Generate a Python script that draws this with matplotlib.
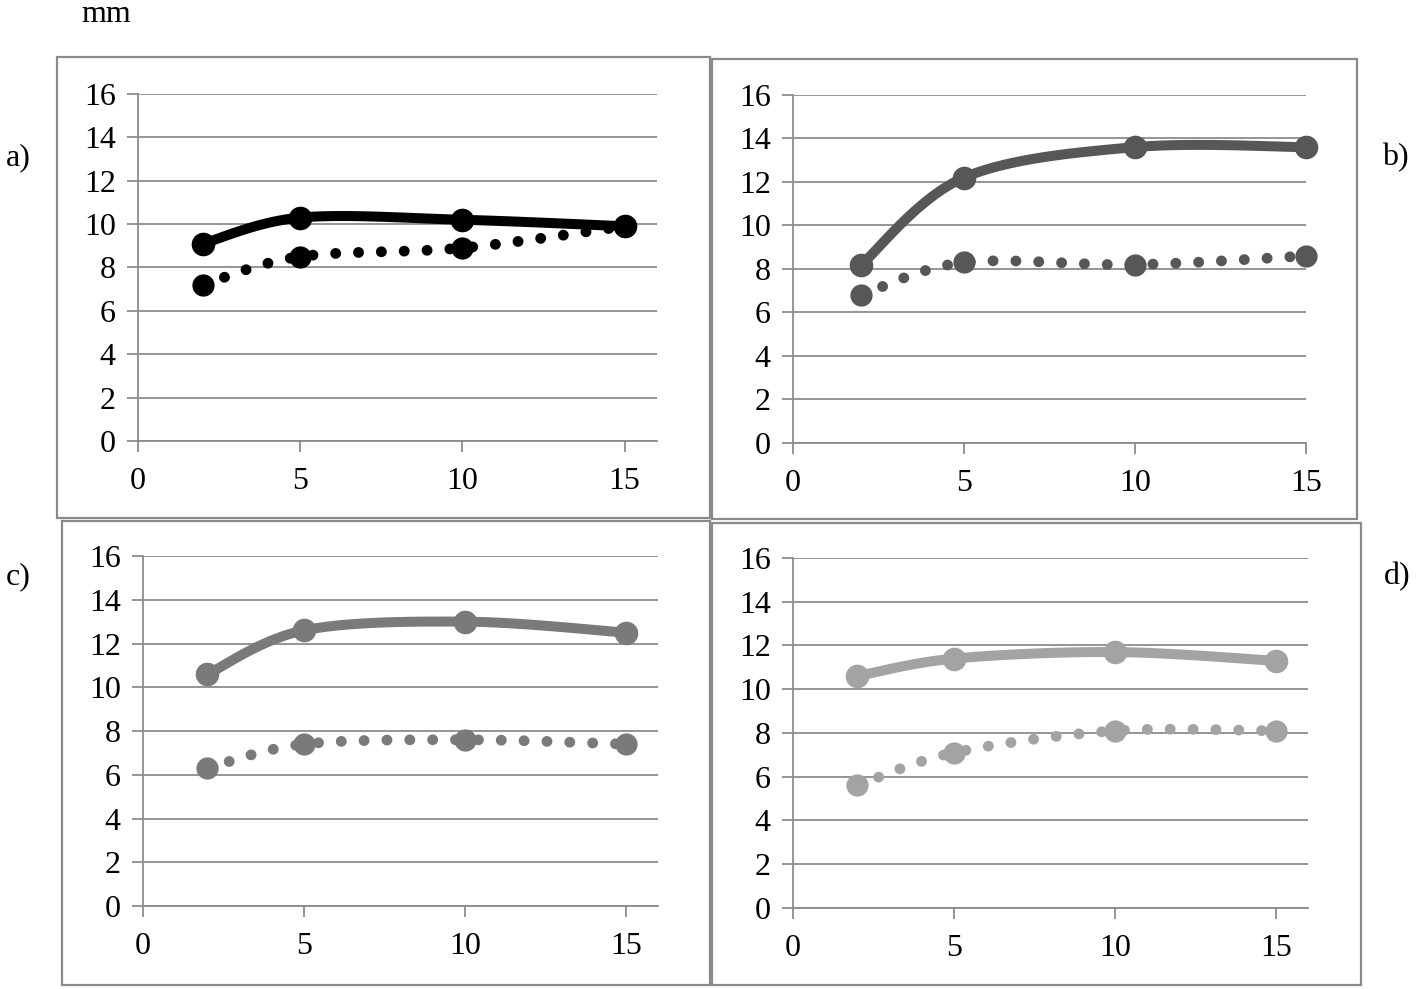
import numpy as np
import matplotlib.pyplot as plt
from matplotlib.patches import Rectangle

# x positions (same for every panel)
x_vals = [2, 5, 10, 15]

# panel a) black
a_solid = [9.1, 10.3, 10.2, 9.9]
a_dotted = [7.2, 8.5, 8.9, 9.9]
# panel b) dark gray
b_solid = [8.2, 12.2, 13.6, 13.6]
b_dotted = [6.8, 8.3, 8.2, 8.6]
# panel c) gray
c_solid = [10.6, 12.6, 13.0, 12.5]
c_dotted = [6.3, 7.4, 7.6, 7.4]
# panel d) light gray
d_solid = [10.6, 11.4, 11.7, 11.3]
d_dotted = [5.6, 7.1, 8.1, 8.1]

y_ticks = [0, 2, 4, 6, 8, 10, 12, 14, 16]
x_ticks = [0, 5, 10, 15]
panel_labels = ['a)', 'b)', 'c)', 'd)']

plt.rcParams['font.family'] = ['Liberation Serif', 'DejaVu Serif']


def smooth(xs, ys, n=40):
    # Catmull-Rom style smoothing, like the "smoothed line" option in spreadsheets
    px = np.array(xs, dtype=float)
    py = np.array(ys, dtype=float)
    px = np.concatenate([[px[0]], px, [px[-1]]])
    py = np.concatenate([[py[0]], py, [py[-1]]])
    out_x, out_y = [], []
    t = np.linspace(0, 1, n)
    for i in range(1, len(px) - 2):
        for arr, out in ((px, out_x), (py, out_y)):
            p0, p1, p2, p3 = arr[i - 1], arr[i], arr[i + 1], arr[i + 2]
            seg = 0.5 * ((2 * p1) + (-p0 + p2) * t +
                         (2 * p0 - 5 * p1 + 4 * p2 - p3) * t ** 2 +
                         (-p0 + 3 * p1 - 3 * p2 + p3) * t ** 3)
            out.extend(seg)
    return np.array(out_x), np.array(out_y)


fig = plt.figure(figsize=(14.18, 9.89), dpi=100)

# (axes rect, frame rect, xmax, color, solid, dotted)
panels = [
    ([0.0973, 0.5541, 0.3660, 0.3509], [0.0402, 0.4762, 0.4605, 0.4661], 16, '#000000', a_solid, a_dotted),
    ([0.5592, 0.5521, 0.3618, 0.3519], [0.5021, 0.4752, 0.4549, 0.4651], 15, '#575757', b_solid, b_dotted),
    ([0.1008, 0.0839, 0.3632, 0.3539], [0.0437, 0.0040, 0.4570, 0.4692], 16, '#7a7a7a', c_solid, c_dotted),
    ([0.5592, 0.0819, 0.3632, 0.3539], [0.5021, 0.0040, 0.4577, 0.4670], 16, '#a3a3a3', d_solid, d_dotted),
]

grid_col = '#8c8c8c'

for rect, frame, xmax, col, solid, dotted in panels:
    fig.patches.append(Rectangle((frame[0], frame[1]), frame[2], frame[3],
                                 transform=fig.transFigure, fill=False,
                                 edgecolor='#8a8a8a', linewidth=1.6, zorder=0))
    ax = fig.add_axes(rect)
    ax.set_xlim(0, xmax)
    ax.set_ylim(0, 16)
    ax.set_xticks(x_ticks)
    ax.set_yticks(y_ticks)
    ax.yaxis.grid(True, color=grid_col, linewidth=1.3)
    ax.set_axisbelow(True)
    for s in ['top', 'right']:
        ax.spines[s].set_visible(False)
    for s in ['left', 'bottom']:
        ax.spines[s].set_color(grid_col)
        ax.spines[s].set_linewidth(1.3)
    ax.tick_params(axis='both', colors=grid_col, length=8, width=1.3,
                   labelsize=23, labelcolor='black')
    ax.tick_params(axis='y', pad=8)
    ax.tick_params(axis='x', pad=11)
    ax.patch.set_alpha(0)

    sx, sy = smooth(x_vals, solid)
    ax.plot(sx, sy, color=col, linewidth=7.2, solid_capstyle='round', clip_on=False)
    ax.plot(x_vals, solid, 'o', color=col, markersize=16, clip_on=False)

    dx, dy = smooth(x_vals, dotted)
    ax.plot(dx, dy, color=col, linewidth=7.8, linestyle=(0, (0.01, 2.1)),
            dash_capstyle='round', clip_on=False)
    ax.plot(x_vals, dotted, 'o', color=col, markersize=15, clip_on=False)

fig.text(0.075, 0.978, 'mm', fontsize=23, ha='center', va='baseline')
fig.text(0.013, 0.841, panel_labels[0], fontsize=23, ha='center', va='center')
fig.text(0.984, 0.841, panel_labels[1], fontsize=23, ha='center', va='center')
fig.text(0.013, 0.417, panel_labels[2], fontsize=23, ha='center', va='center')
fig.text(0.985, 0.417, panel_labels[3], fontsize=23, ha='center', va='center')

fig.savefig('out.png', dpi=100)
